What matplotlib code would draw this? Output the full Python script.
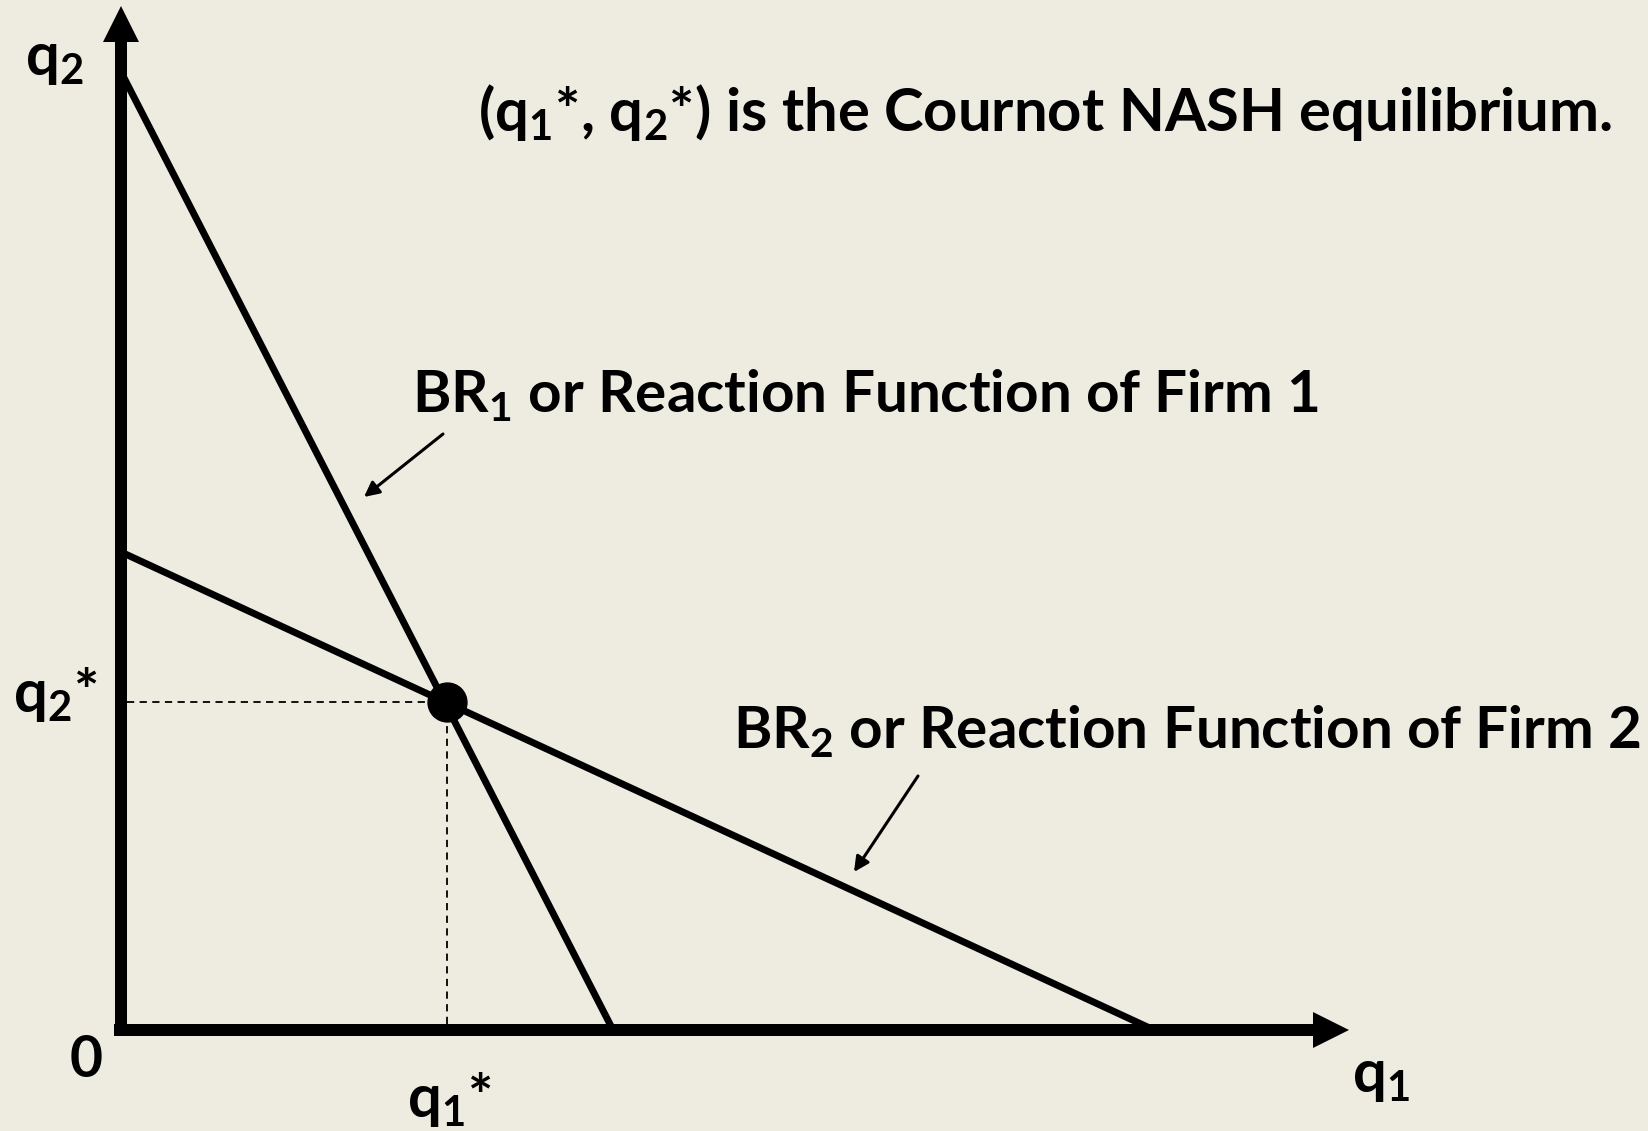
import matplotlib
matplotlib.use('Agg')
import matplotlib.pyplot as plt

plt.rcParams['font.family'] = ['Lato', 'DejaVu Sans']
plt.rcParams['font.weight'] = 'bold'
plt.rcParams['mathtext.fontset'] = 'custom'
plt.rcParams['mathtext.rm'] = 'Lato:bold'
plt.rcParams['mathtext.it'] = 'Lato:bold'
plt.rcParams['mathtext.bf'] = 'Lato:bold'
plt.rcParams['mathtext.default'] = 'regular'

# reaction functions, given by their intercepts (q1 axis, q2 axis)
br1_q1 = [0.0, 4.92]
br1_q2 = [9.58, 0.0]
br2_q1 = [0.0, 10.33]
br2_q2 = [4.78, 0.0]
q1_star = 3.26
q2_star = 3.28
x_end = 12.28
y_end = 10.24

bg = '#EEECE1'
fig = plt.figure(figsize=(16.49, 11.31), dpi=100, facecolor=bg)
ax = fig.add_axes([0, 0, 1, 1])
ax.set_facecolor(bg)
ax.set_xlim(-1.21, 15.28)
ax.set_ylim(-1.01, 10.30)
ax.axis('off')

# axes with arrow heads
ax.arrow(-0.07, 0, x_end + 0.07, 0, width=0.12, head_width=0.36, head_length=0.36,
         length_includes_head=True, color='black', lw=0, zorder=3)
ax.arrow(0.0, -0.06, 0, y_end + 0.06, width=0.12, head_width=0.36, head_length=0.36,
         length_includes_head=True, color='black', lw=0, zorder=3)

# best response lines
ax.plot(br1_q1, br1_q2, color='black', lw=5, solid_capstyle='butt', zorder=2)
ax.plot(br2_q1, br2_q2, color='black', lw=5, solid_capstyle='butt', zorder=2)

# equilibrium
ax.plot([0.06, q1_star], [q2_star, q2_star], color='black', lw=1.3, ls=(0, (4, 3)), zorder=1)
ax.plot([q1_star, q1_star], [0.06, q2_star], color='black', lw=1.3, ls=(0, (4, 3)), zorder=1)
ax.plot(q1_star, q2_star, 'o', color='black', markersize=28, zorder=5)

# pointer arrows
ax.annotate('', xy=(2.43, 5.33), xytext=(3.22, 5.96),
            arrowprops=dict(arrowstyle='-|>,head_length=0.9,head_width=0.45', color='black', lw=2.2,
                            shrinkA=0, shrinkB=0))
ax.annotate('', xy=(7.33, 1.58), xytext=(7.97, 2.54),
            arrowprops=dict(arrowstyle='-|>,head_length=0.9,head_width=0.45', color='black', lw=2.2,
                            shrinkA=0, shrinkB=0))

# texts
fs = 42
ax.text(3.57, 8.99, '(q$_1$*, q$_2$*) is the Cournot NASH equilibrium.', fontsize=43,
        ha='left', va='baseline')
ax.text(2.91, 6.18, 'BR$_1$ or Reaction Function of Firm 1', fontsize=fs, ha='left', va='baseline')
ax.text(6.12, 2.82, 'BR$_2$ or Reaction Function of Firm 2', fontsize=fs, ha='left', va='baseline')
ax.text(-0.96, 9.55, 'q$_2$', fontsize=43, ha='left', va='baseline')
ax.text(-1.08, 3.18, 'q$_2$*', fontsize=43, ha='left', va='baseline')
ax.text(-0.345, -0.47, '0', fontsize=41, ha='center', va='baseline')
ax.text(2.86, -0.87, 'q$_1$*', fontsize=43, ha='left', va='baseline')
ax.text(12.31, -0.62, 'q$_1$', fontsize=43, ha='left', va='baseline')

fig.savefig('out.png', dpi=100, facecolor=bg)
